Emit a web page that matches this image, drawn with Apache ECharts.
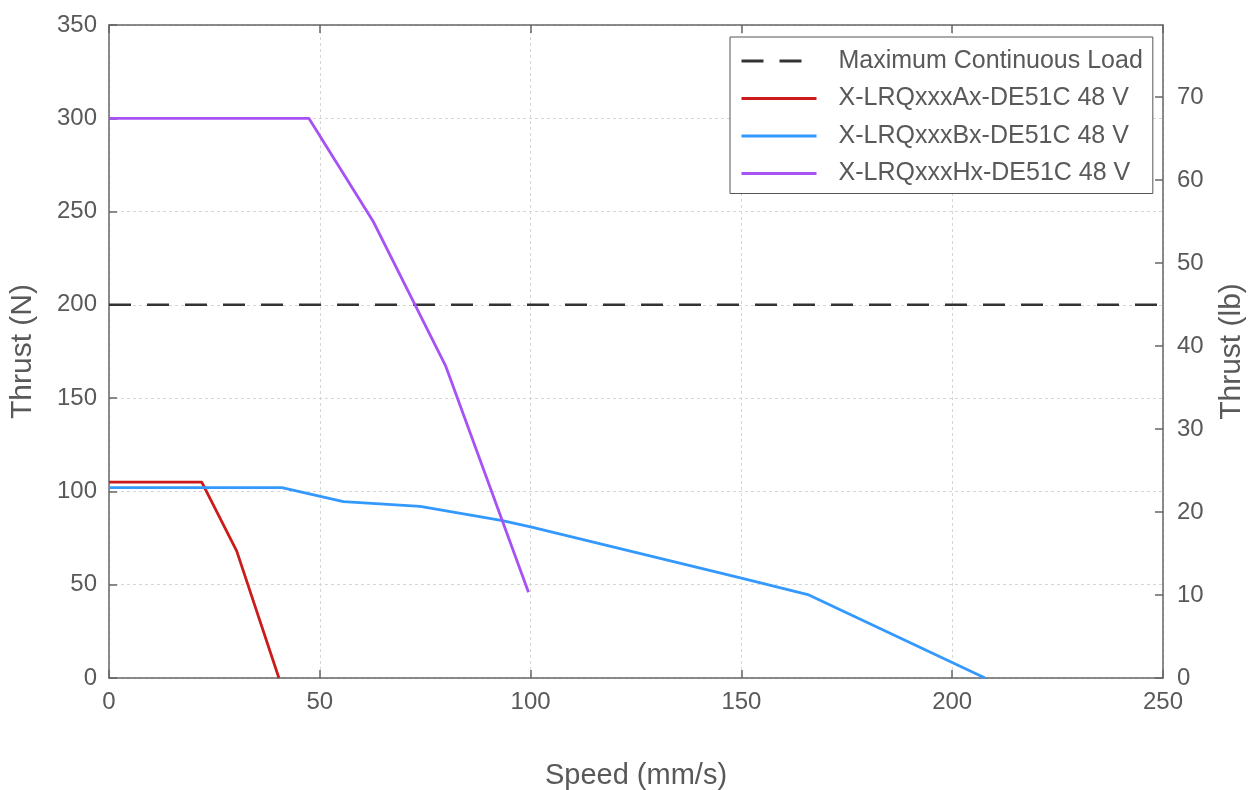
<!DOCTYPE html>
<html>
<head>
<meta charset="utf-8">
<script src="https://cdn.jsdelivr.net/npm/echarts@6/dist/echarts.min.js"></script>
<style>
  html, body { margin: 0; padding: 0; background: #fff; }
  #chart { width: 1248px; height: 790px; }
</style>
</head>
<body>
<div id="chart"></div>
<script>
// speed (mm/s) / thrust (N) pairs
const speedA = [0, 22, 30.3, 40.3]
const thrustA = [105, 105, 68, 0]

const speedB = [0, 41, 55.6, 73.8, 93, 100, 150, 166, 207.8]
const thrustB = [102, 102, 94.5, 92, 84.5, 81, 53.5, 44.5, 0]

const speedH = [0, 47.4, 62.6, 79.9, 99.5]
const thrustH = [300, 300, 245, 167, 46]

const maxLoad = 200
const seriesNames = [
    'Maximum Continuous Load',
    'X-LRQxxxAx-DE51C 48 V',
    'X-LRQxxxBx-DE51C 48 V',
    'X-LRQxxxHx-DE51C 48 V'
]
const N_PER_LB = 4.448

const toPairs = (xs, ys) => xs.map((x, i) => [x, ys[i]])

const myChart = echarts.init(document.getElementById('chart'))
const fontColor = '#595959'
const axisColor = '#666'
const font = '"Liberation Sans", Arial, sans-serif'
const gridLine = { show: true, lineStyle: { color: '#d6d6d6', type: [3, 3], width: 1 } }
const tick = { show: true, inside: true, length: 8, lineStyle: { color: axisColor, width: 1.5 } }
const line = { show: true, onZero: false, lineStyle: { color: axisColor, width: 1.5 } }

const option = {
    backgroundColor: '#fff',
    textStyle: { fontFamily: font },
    animation: false,
    grid: {
        left: 109,
        right: 85,
        top: 25,
        bottom: 112,
        outerBoundsMode: 'none'
    },
    legend: {
        orient: 'vertical',
        left: 730,
        top: 37,
        padding: [11, 10, 7, 10],
        backgroundColor: '#fff',
        borderColor: '#555',
        borderWidth: 1,
        itemWidth: 75,
        itemHeight: 14,
        itemGap: 11.5,
        // hide the symbol dot, keep only the line sample
        itemStyle: { opacity: 0 },
        lineStyle: { width: 3 },
        textStyle: {
            color: fontColor,
            fontSize: 25,
            lineHeight: 26,
            padding: [0, 0, 0, 17]
        },
        data: seriesNames
    },
    xAxis: [
        {
            type: 'value',
            min: 0,
            max: 250,
            interval: 50,
            name: 'Speed (mm/s)',
            nameLocation: 'middle',
            nameGap: 83,
            nameTextStyle: { color: fontColor, fontSize: 29 },
            axisLine: line,
            axisTick: tick,
            axisLabel: { color: fontColor, fontSize: 24, margin: 12 },
            splitLine: gridLine
        },
        {
            // top frame with ticks
            type: 'value',
            position: 'top',
            min: 0,
            max: 250,
            interval: 50,
            axisLine: line,
            axisTick: tick,
            axisLabel: { show: false },
            splitLine: { show: false }
        }
    ],
    yAxis: [
        {
            type: 'value',
            min: 0,
            max: 350,
            interval: 50,
            name: 'Thrust (N)',
            nameLocation: 'middle',
            nameGap: 71,
            nameTextStyle: { color: fontColor, fontSize: 30 },
            axisLine: line,
            axisTick: tick,
            axisLabel: { color: fontColor, fontSize: 24, margin: 12 },
            splitLine: gridLine
        },
        {
            type: 'value',
            position: 'right',
            min: 0,
            max: 350 / N_PER_LB,
            interval: 10,
            name: 'Thrust (lb)',
            nameLocation: 'middle',
            nameGap: 54,
            nameRotate: 90,
            nameTextStyle: { color: fontColor, fontSize: 30 },
            axisLine: line,
            axisTick: tick,
            axisLabel: {
                color: fontColor,
                fontSize: 24,
                margin: 14,
                showMaxLabel: false,
                formatter: v => (v % 10 === 0 ? v : '')
            },
            splitLine: { show: false }
        }
    ],
    series: [
        {
            name: seriesNames[0],
            type: 'line',
            symbol: 'none',
            color: '#333',
            lineStyle: { color: '#333', width: 2.5, type: [22, 16] },
            data: [[0, maxLoad], [250, maxLoad]]
        },
        {
            name: seriesNames[1],
            type: 'line',
            symbol: 'none',
            color: '#cc1b1b',
            lineStyle: { color: '#cc1b1b', width: 2.8 },
            data: toPairs(speedA, thrustA)
        },
        {
            name: seriesNames[2],
            type: 'line',
            symbol: 'none',
            color: '#3399ff',
            lineStyle: { color: '#3399ff', width: 2.8 },
            data: toPairs(speedB, thrustB)
        },
        {
            name: seriesNames[3],
            type: 'line',
            symbol: 'none',
            color: '#a652f5',
            lineStyle: { color: '#a652f5', width: 2.8 },
            data: toPairs(speedH, thrustH)
        }
    ]
}
myChart.setOption(option)
</script>
</body>
</html>
